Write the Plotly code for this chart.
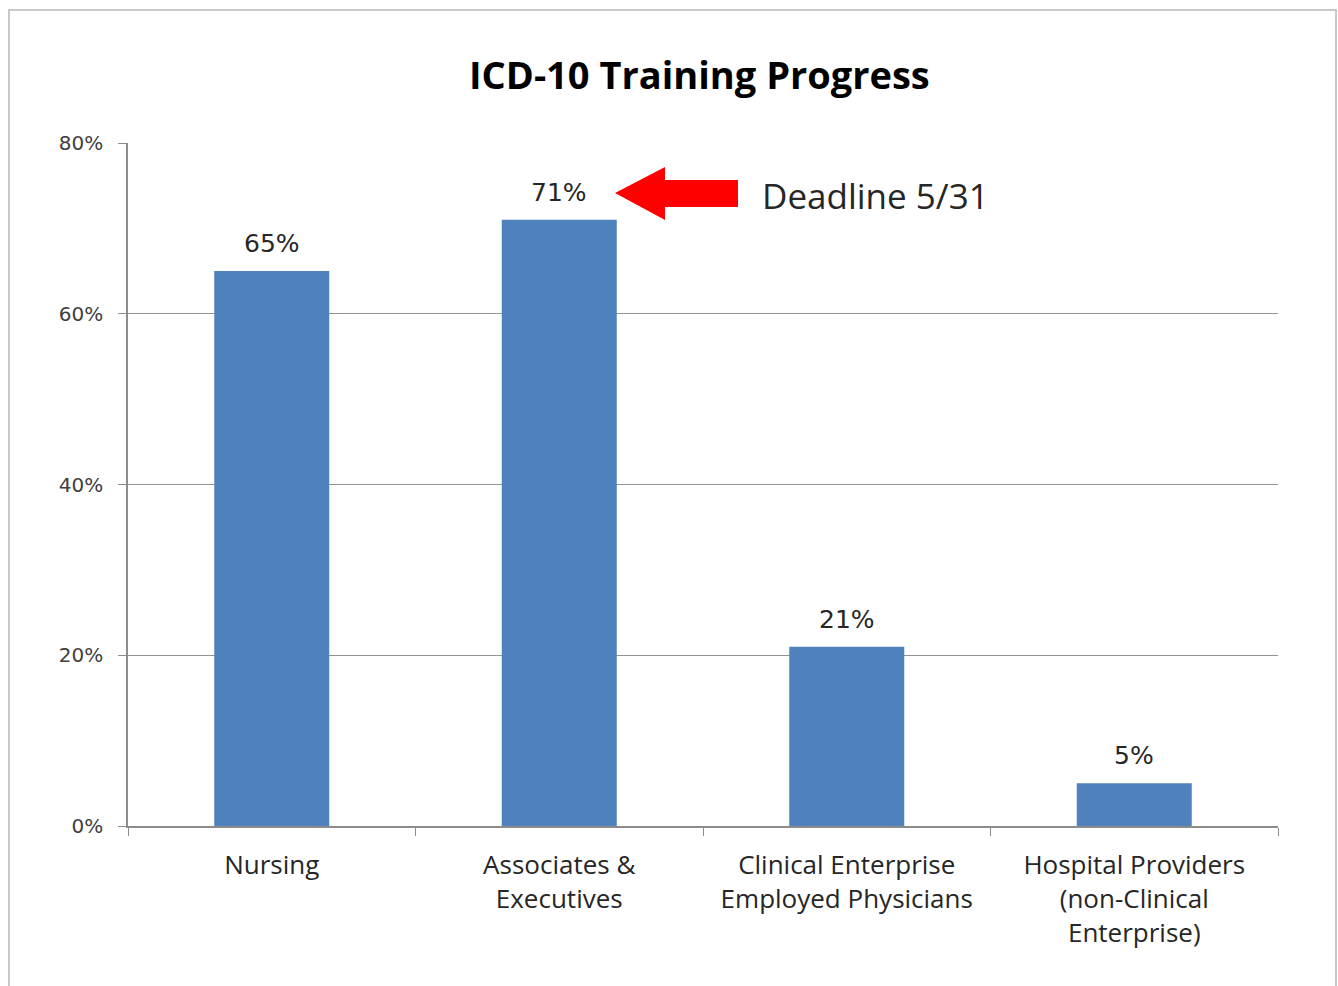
import plotly.graph_objects as go

categories = ["Nursing", "Associates &<br>Executives", "Clinical Enterprise<br>Employed Physicians",
              "Hospital Providers<br>(non-Clinical<br>Enterprise)"]
values = [0.65, 0.71, 0.21, 0.05]
value_labels = ["65%", "71%", "21%", "5%"]
title_text = "ICD-10 Training Progress"
deadline_text = "Deadline 5/31"

FONT = "Open Sans"
NUMFONT = "DejaVu Sans"
fig = go.Figure()
fig.add_trace(go.Bar(x=categories, y=values, marker=dict(color="#4f81bd", line=dict(width=0)),
                     hoverinfo="skip"))

for c, v, t in zip(categories, values, value_labels):
    fig.add_annotation(x=c, y=v, text=t, showarrow=False, yanchor="bottom", yshift=11,
                       font=dict(family=NUMFONT, size=25, color="#262626"))

# plot area in px: left 128, right 1278, top 143, bottom 826
def px(x):
    return (x - 128) / 1150.0

def py(y):
    return (826 - y) / 683.0

tipx, headx, endx = px(615), px(665), px(738)
ytip, ytop, ybot, stop, sbot = py(193), py(167), py(220), py(180), py(207)
path = (f"M {tipx},{ytip} L {headx},{ytop} L {headx},{stop} L {endx},{stop} "
        f"L {endx},{sbot} L {headx},{sbot} L {headx},{ybot} Z")
fig.add_shape(type="path", xref="paper", yref="paper", path=path,
              fillcolor="#ff0000", line=dict(width=0))
fig.add_annotation(xref="paper", yref="paper", x=px(760), y=py(195), text=deadline_text,
                   showarrow=False, xanchor="left", yanchor="middle",
                   font=dict(family=FONT, size=35, color="#262626"))

# outer border
fig.add_shape(type="rect", xref="paper", yref="paper", x0=px(9), x1=px(1336), y0=py(995), y1=py(10),
              line=dict(color="#c8c8c8", width=2), fillcolor="rgba(0,0,0,0)", layer="below")

fig.update_layout(
    width=1338, height=986,
    margin=dict(l=128, r=60, t=143, b=160),
    paper_bgcolor="white", plot_bgcolor="white",
    showlegend=False, bargap=0.6,
    title=dict(text=f"<b>{title_text}</b>", x=0.5227, xanchor="center", y=1 - 76 / 986, yanchor="middle",
               font=dict(family=FONT, size=38, color="#000000")),
)
fig.update_xaxes(
    showline=True, linecolor="#8c8c8c", linewidth=1.5, ticks="outside", tickson="boundaries",
    ticklen=8, tickcolor="#8c8c8c", showgrid=False, ticklabelstandoff=15,
    tickfont=dict(family=FONT, size=26, color="#262626"),
)
fig.update_yaxes(
    range=[0, 0.8], tickvals=[0, 0.2, 0.4, 0.6, 0.8], tickformat=".0%",
    showline=True, linecolor="#8c8c8c", linewidth=1.5, ticks="outside", ticklen=8, tickcolor="#8c8c8c",
    showgrid=True, gridcolor="#939393", gridwidth=1, zeroline=False,
    tickfont=dict(family=NUMFONT, size=20, color="#404040"), ticklabelstandoff=11,
)

fig.write_html("out.html", config={"displayModeBar": False},
               post_script="document.body.style.margin='0px';")
